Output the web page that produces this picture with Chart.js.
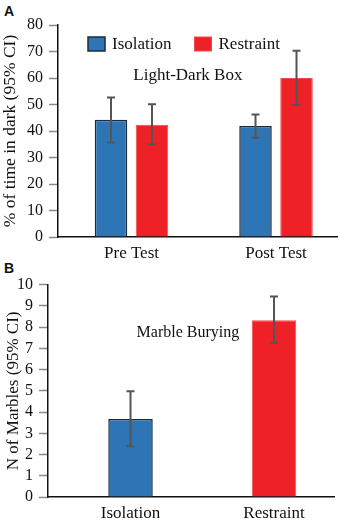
<!DOCTYPE html>
<html>
<head>
<meta charset="utf-8">
<script src="https://cdn.jsdelivr.net/npm/chart.js@4/dist/chart.umd.min.js"></script>
<style>
  html, body { margin: 0; padding: 0; background: #fff; overflow: hidden; }
  body { width: 338px; height: 522px; position: relative; }
  .panel { position: absolute; left: 0; width: 338px; }
  #panelA { top: 0; height: 262px; }
  #panelB { top: 262px; height: 260px; }
  .tag { position: absolute; left: 4px; font: bold 14px "Liberation Sans", Arial, sans-serif; color: #111; }
</style>
</head>
<body>
<div class="tag" style="top:3px">A</div>
<div class="tag" style="top:260px">B</div>
<div class="panel" id="panelA"><canvas id="chartA" width="338" height="262"></canvas></div>
<div class="panel" id="panelB"><canvas id="chartB" width="338" height="260"></canvas></div>
<script>
// Panel A: light-dark box, time in dark by test phase.
const phases = ['Pre Test', 'Post Test'];
const isolationDark = [44.2, 41.9];
const isolationDarkLow = [35.7, 37.5];
const isolationDarkHigh = [52.6, 46.2];
const restraintDark = [42.4, 60.0];
const restraintDarkLow = [35.0, 49.8];
const restraintDarkHigh = [50.1, 70.3];

// Panel B: marble burying by group.
const groups = ['Isolation', 'Restraint'];
const marbles = [3.67, 8.33];
const marblesLow = [2.39, 7.26];
const marblesHigh = [4.98, 9.45];

const BLUE = '#2E75B6';
const BLUE_EDGE = '#1B2A3C';
const RED = '#EE2226';
const RED_EDGE = '#F24A4D';
const SERIF = '"Liberation Serif", "Times New Roman", serif';

Chart.defaults.font.family = SERIF;
Chart.defaults.color = '#111';
Chart.defaults.animation = false;

const toPoints = (values) => values.map((v, i) => ({ x: i + 1, y: v }));

const errorBars = {
  id: 'errorBars',
  afterDatasetsDraw(chart) {
    const { ctx } = chart;
    const yScale = chart.scales.y;
    chart.data.datasets.forEach((ds, di) => {
      const meta = chart.getDatasetMeta(di);
      meta.data.forEach((bar, i) => {
        const top = yScale.getPixelForValue(ds.errorHigh[i]);
        const bottom = yScale.getPixelForValue(ds.errorLow[i]);
        ctx.save();
        ctx.strokeStyle = '#555';
        ctx.lineWidth = 2;
        ctx.beginPath();
        ctx.moveTo(bar.x, top);
        ctx.lineTo(bar.x, bottom);
        ctx.moveTo(bar.x - 4, top);
        ctx.lineTo(bar.x + 4, top);
        ctx.moveTo(bar.x - 4, bottom);
        ctx.lineTo(bar.x + 4, bottom);
        ctx.stroke();
        ctx.restore();
      });
    });
  },
};

const caption = {
  id: 'caption',
  afterDatasetsDraw(chart, args, opts) {
    const { ctx, scales } = chart;
    ctx.save();
    ctx.font = `${opts.size}px ${SERIF}`;
    ctx.fillStyle = '#111';
    ctx.textAlign = 'center';
    ctx.textBaseline = 'middle';
    ctx.fillText(opts.text, scales.x.getPixelForValue(opts.x), scales.y.getPixelForValue(opts.y));
    ctx.restore();
  },
};

// one-row legend inside the plot, like the original figure
const inlineLegend = {
  id: 'inlineLegend',
  afterDatasetsDraw(chart, args, opts) {
    if (!opts.show) return;
    const { ctx } = chart;
    let x = opts.left;
    ctx.save();
    ctx.font = `${opts.size}px ${SERIF}`;
    ctx.textBaseline = 'middle';
    ctx.textAlign = 'left';
    chart.data.datasets.forEach((ds) => {
      ctx.fillStyle = ds.backgroundColor;
      ctx.strokeStyle = ds.borderColor;
      ctx.lineWidth = ds.borderWidth;
      ctx.fillRect(x, opts.top, 17, 14);
      ctx.strokeRect(x, opts.top, 17, 14);
      ctx.fillStyle = '#111';
      ctx.fillText(ds.label, x + 24, opts.top + 8);
      x += 24 + ctx.measureText(ds.label).width + 23;
    });
    ctx.restore();
  },
};

function xScale(labels, min, max) {
  return {
    type: 'linear',
    min,
    max,
    bounds: 'data',
    offset: false,
    afterBuildTicks: (scale) => {
      scale.ticks = labels.map((_, i) => ({ value: i + 1 }));
    },
    afterFit: (scale) => { scale.height = 25; },
    ticks: {
      autoSkip: false,
      maxRotation: 0,
      padding: 6,
      font: { size: 17 },
      color: '#111',
      callback: (v) => labels[v - 1] ?? '',
    },
    grid: { offset: false, drawOnChartArea: false, drawTicks: false },
    border: { color: '#111', width: 1.5 },
  };
}

function yScale(max, step, width, title, titleSize, titlePad) {
  return {
    min: 0,
    max,
    afterFit: (scale) => { scale.width = width; },
    ticks: { stepSize: step, autoSkip: false, padding: 6, font: { size: 16 }, color: '#111' },
    grid: { drawOnChartArea: false, tickLength: 9, tickColor: '#888', tickWidth: 1.5 },
    border: { color: '#111', width: 1.5 },
    title: { display: true, text: title, padding: { top: titlePad, bottom: 0 }, font: { size: titleSize }, color: '#111' },
  };
}

new Chart(document.getElementById('chartA'), {
  type: 'bar',
  data: {
    datasets: [
      {
        label: 'Isolation',
        data: toPoints(isolationDark),
        errorLow: isolationDarkLow,
        errorHigh: isolationDarkHigh,
        backgroundColor: BLUE,
        borderColor: BLUE_EDGE,
        borderWidth: 1.5,
      },
      {
        label: 'Restraint',
        data: toPoints(restraintDark),
        errorLow: restraintDarkLow,
        errorHigh: restraintDarkHigh,
        backgroundColor: RED,
        borderColor: RED_EDGE,
        borderWidth: 1,
      },
    ],
  },
  options: {
    responsive: false,
    categoryPercentage: 0.5675,
    barPercentage: 0.793,
    layout: { padding: { top: 25, left: 0, right: 0, bottom: 0 } },
    scales: {
      x: xScale(phases, 0.4913, 2.429),
      y: yScale(80, 10, 58, '% of time in dark (95% CI)', 17.5, 0),
    },
    plugins: {
      legend: { display: false },
      inlineLegend: { show: true, left: 88, top: 37, size: 17 },
      tooltip: { enabled: false },
      caption: { text: 'Light-Dark Box', size: 17, x: 1.39, y: 61.1 },
    },
  },
  plugins: [errorBars, caption, inlineLegend],
});

new Chart(document.getElementById('chartB'), {
  type: 'bar',
  data: {
    datasets: [
      {
        label: 'Marbles',
        data: toPoints(marbles),
        errorLow: marblesLow,
        errorHigh: marblesHigh,
        backgroundColor: [BLUE, RED],
        borderColor: [BLUE_EDGE, RED_EDGE],
        borderWidth: [1.5, 1],
      },
    ],
  },
  options: {
    responsive: false,
    categoryPercentage: 1,
    barPercentage: 0.31,
    layout: { padding: { top: 22.7, left: 0, right: 4, bottom: 0 } },
    scales: {
      x: xScale(groups, 0.425, 2.418),
      y: yScale(10, 1, 48, 'N of Marbles (95% CI)', 17, 3),
    },
    plugins: {
      legend: { display: false },
      tooltip: { enabled: false },
      caption: { text: 'Marble Burying', size: 16, x: 1.40, y: 7.72 },
    },
  },
  plugins: [errorBars, caption],
});
</script>
</body>
</html>
